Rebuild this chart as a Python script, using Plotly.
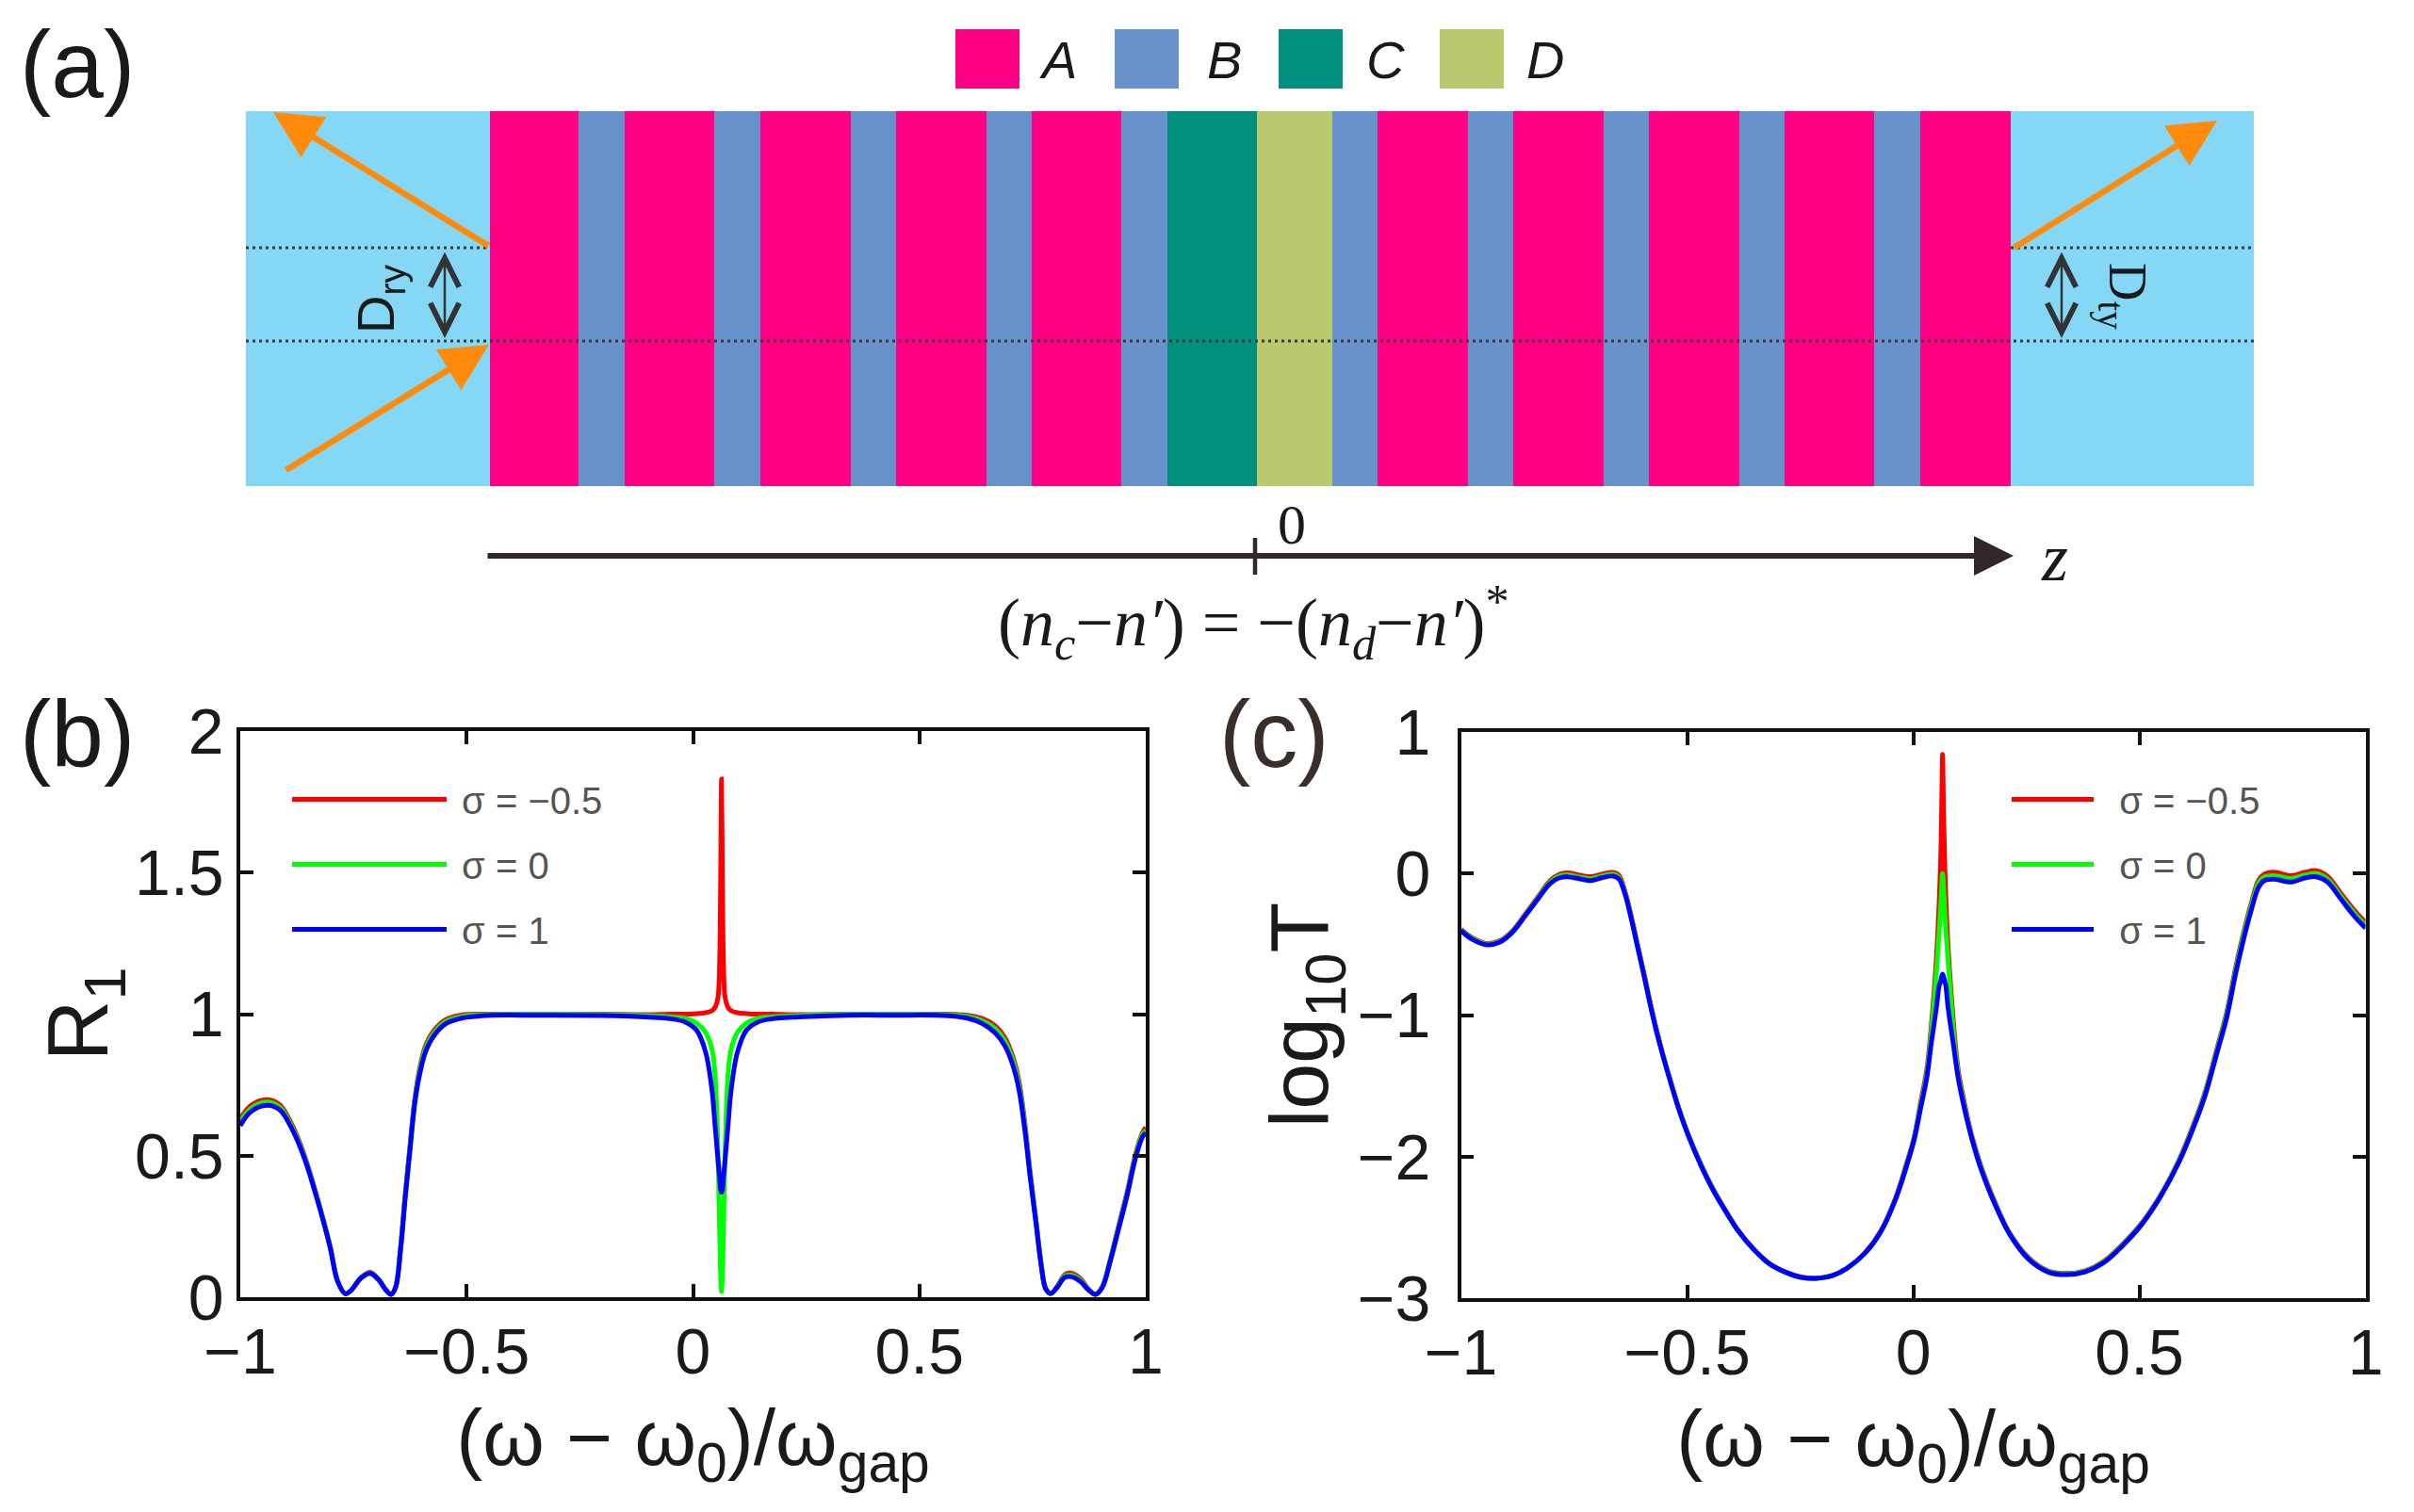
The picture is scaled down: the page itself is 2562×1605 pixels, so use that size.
import numpy as np
import plotly.graph_objects as go

W = 2562
H = 1605
PAGE_MARGIN = 8  # the page keeps its default body margin

# layer stack of panel (a), thickness in picture pixels
layer_names = ['clad', 'A', 'B', 'A', 'B', 'A', 'B', 'A', 'B', 'A', 'B', 'C', 'D',
               'B', 'A', 'B', 'A', 'B', 'A', 'B', 'A', 'B', 'A', 'clad']
layer_thickness = [258.6, 94.8, 48.2, 95.6, 49, 95.6, 48.2, 95.6, 48.2, 95.6, 48.2, 95.4, 80,
                   48.4, 95.6, 48, 96, 48, 95.5, 48.5, 95, 49, 96, 258]
layer_colors = {'clad': '#84D8F6', 'A': '#FF0084', 'B': '#6892CB', 'C': '#00907D', 'D': '#BAC86E'}
legend_names = ['A', 'B', 'C', 'D']

sigma_names = ['σ = −0.5', 'σ = 0', 'σ = 1']
sigma_colors = ['#FF0000', '#00FF00', '#0000FF']

# panel (b)
b_x = [-1, -.976, -.941, -.913, -.886, -.858, -.83, -.802, -.785, -.768, -.756, -.733, -.713, -.695, -.677,
       -.667, -.657, -.646, -.636, -.625, -.615, -.605, -.591, -.573, -.546, -.511, -.455, -.344, -.2,
       -.107, -.047, -.017, .008, .028, .042, .048, .0525, .056, .059, .061, .063,
       .065, .067, .07, .0735, .078, .084, .098, .118, .143, .173, .233,
       .342, .446, .55, .606, .64, .668, .689, .706, .72, .733, .744, .758, .769, .779, .79, .804, .821, .836,
       .856, .873, .889, .904, .921, .939, .96, .977, .993, 1]
b_red = [.63, .678, .698, .68, .61, .5, .352, .183, .058, .012, .023, .07, .088, .064, .023,
         .01, .036, .175, .357, .537, .695, .798, .887, .94, .98, .997, 1, 1, 1,
         .998, 1, 1, 1.002, 1.005, 1.012, 1.022, 1.04, 1.07, 1.2, 1.47, 1.83,
         1.47, 1.2, 1.07, 1.04, 1.022, 1.012, 1.005, 1.002, 1, 1, .998,
         1, 1, 1, .996, .984, .958, .917, .852, .763, .614, .452, .266, .118, .03, .013, .037, .08, .085,
         .065, .03, .01, .037, .13, .245, .38, .503, .582, .6]
b_green = [.62, .668, .69, .672, .603, .495, .349, .181, .057, .012, .023, .07, .086, .063, .023,
           .01, .035, .172, .352, .53, .688, .79, .878, .932, .974, .992, .998, .999, .998,
           .995, .99, .985, .968, .935, .875, .80, .66, .45, .22, .08, .02,
           .08, .22, .45, .66, .80, .875, .935, .968, .985, .99, .995,
           .999, .999, .998, .992, .976, .948, .905, .84, .75, .603, .444, .262, .116, .03, .013, .036, .075, .078,
           .06, .028, .01, .036, .127, .24, .374, .497, .575, .59]
b_blue = [.606, .656, .678, .662, .595, .489, .345, .179, .056, .012, .023, .068, .084, .062, .023,
          .01, .034, .167, .345, .522, .678, .778, .866, .922, .966, .986, .995, .996, .995,
          .99, .983, .972, .943, .865, .73, .62, .534, .47, .42, .38, .37,
          .38, .42, .47, .534, .62, .73, .865, .943, .972, .983, .99,
          .996, .996, .995, .986, .966, .933, .888, .822, .733, .589, .434, .256, .113, .03, .013, .034, .07, .072,
          .055, .026, .01, .034, .123, .234, .367, .489, .567, .58]

# panel (c)
c_x = [-1, -.977, -.943, -.914, -.887, -.859, -.831, -.803, -.782, -.765, -.737, -.713, -.689, -.664, -.651,
       -.637, -.623, -.609, -.595, -.581, -.567, -.553, -.539, -.519, -.498, -.47, -.443, -.414, -.387, -.352,
       -.318, -.282, -.248, -.216, -.178,
       -.147, -.106, -.071, -.039, -.016, .002, .016, .03, .04, .051, .057, .0605, .0625, .0648,
       .067, .0695, .072, .077, .088, .099, .113, .13, .151, .179, .213,
       .255, .297, .338, .38, .422, .464, .505, .547, .588, .617, .645, .672, .693, .713, .734, .749, .763,
       .776, .797, .836, .867, .891, .916, .943, .971, .995, 1]
c_red = [-.393, -.45, -.495, -.475, -.408, -.292, -.17, -.05, -.005, .005, -.012, -.022, -.005, .008, -.012,
         -.13, -.31, -.51, -.71, -.92, -1.11, -1.285, -1.44, -1.65, -1.84, -2.05, -2.225, -2.385, -2.52, -2.655,
         -2.755, -2.815, -2.85, -2.86, -2.84,
         -2.79, -2.675, -2.52, -2.29, -2.06, -1.86, -1.62, -1.38, -1.07, -.60, -.22, .1, .42, .842,
         .42, .08, -.17, -.52, -1.02, -1.38, -1.62, -1.86, -2.08, -2.31, -2.54,
         -2.715, -2.806, -2.826, -2.806, -2.737, -2.615, -2.47, -2.27, -2.02, -1.795, -1.545, -1.23, -.98,
         -.66, -.37, -.19, -.05, -.005, .01, -.015, .01, .02, -.02, -.13, -.245, -.33, -.345]
c_green = [-.398, -.456, -.5, -.48, -.413, -.298, -.178, -.06, -.018, -.01, -.026, -.036, -.018, -.005, -.026,
           -.14, -.32, -.52, -.72, -.93, -1.12, -1.29, -1.445, -1.655, -1.845, -2.055, -2.23, -2.39, -2.525, -2.658,
           -2.757, -2.817, -2.853, -2.86, -2.84,
           -2.79, -2.68, -2.525, -2.295, -2.07, -1.87, -1.64, -1.41, -1.12, -.70, -.42, -.24, -.11, 0,
           -.11, -.26, -.40, -.62, -1.08, -1.41, -1.64, -1.87, -2.09, -2.32, -2.545,
           -2.72, -2.81, -2.83, -2.81, -2.742, -2.62, -2.475, -2.275, -2.025, -1.805, -1.555, -1.245, -.995,
           -.68, -.39, -.21, -.07, -.025, -.015, -.035, -.01, 0, -.04, -.15, -.265, -.35, -.365]
c_blue = [-.404, -.462, -.504, -.484, -.417, -.303, -.185, -.07, -.03, -.023, -.038, -.05, -.03, -.018, -.038,
          -.15, -.329, -.529, -.729, -.937, -1.128, -1.294, -1.45, -1.66, -1.848, -2.06, -2.235, -2.392, -2.526, -2.659,
          -2.758, -2.818, -2.854, -2.86, -2.84,
          -2.79, -2.68, -2.526, -2.30, -2.08, -1.88, -1.66, -1.44, -1.194, -.95, -.795, -.76, -.73, -.71,
          -.73, -.76, -.795, -.95, -1.194, -1.44, -1.66, -1.88, -2.10, -2.326, -2.548,
          -2.725, -2.814, -2.834, -2.814, -2.747, -2.625, -2.48, -2.281, -2.035, -1.815, -1.57, -1.261, -1.017,
          -.704, -.417, -.238, -.1, -.05, -.04, -.06, -.03, -.023, -.06, -.17, -.285, -.37, -.385]

x_ticks = [-1, -0.5, 0, 0.5, 1]
x_tick_text = ['−1', '−0.5', '0', '0.5', '1']
b_y_ticks = [0, 0.5, 1, 1.5, 2]
b_y_tick_text = ['0', '0.5', '1', '1.5', '2']
c_y_ticks = [-3, -2, -1, 0, 1]
c_y_tick_text = ['−3', '−2', '−1', '0', '1']

SANS = 'Liberation Sans'
SERIF = 'Liberation Serif'
INK = '#1a1a1a'
FIG_W = W - 2 * PAGE_MARGIN
FIG_H = H - 2 * PAGE_MARGIN

fig = go.Figure()


def dom_x(left, right):
    return [(left - PAGE_MARGIN) / FIG_W, (right - PAGE_MARGIN) / FIG_W]


def dom_y(top, bottom):
    return [1 - (bottom - PAGE_MARGIN) / FIG_H, 1 - (top - PAGE_MARGIN) / FIG_H]


def add_text(text, x, y, size, font=SANS, angle=0, color=INK):
    fig.add_annotation(text=text, x=x, y=y, xref='x3', yref='y3', showarrow=False, textangle=angle,
                       font=dict(family=font, size=size, color=color))


def add_arrow(x0, y0, x1, y1, color, width, size, head=2, side='end'):
    fig.add_annotation(x=x1, y=y1, ax=x0, ay=y0, xref='x3', yref='y3', axref='x3', ayref='y3', text='',
                       showarrow=True, arrowcolor=color, arrowwidth=width, arrowsize=size,
                       arrowhead=head, startarrowhead=head, startarrowsize=size, arrowside=side,
                       standoff=0, startstandoff=0)


# Panel (a): one axis pair spanning the page, in picture pixels
edges = np.cumsum([261] + layer_thickness)
fig.add_trace(go.Bar(
    x=(edges[:-1] + edges[1:]) / 2,
    y=[398] * len(layer_names),
    base=118,
    width=layer_thickness,
    marker=dict(color=[layer_colors[n] for n in layer_names], line=dict(width=0)),
    showlegend=False, hoverinfo='skip', xaxis='x3', yaxis='y3'))

for x0, x1, y in [(261, 520, 263), (2134, 2392, 263), (261, 2392, 362)]:
    fig.add_trace(go.Scatter(x=[x0, x1], y=[y, y], mode='lines', showlegend=False, hoverinfo='skip',
                             line=dict(color='#3a3a3a', width=3, dash='3px,4px'), xaxis='x3', yaxis='y3'))

swatch_left = [1014, 1183, 1357, 1528]
label_x = [1123, 1299, 1470, 1640]
for name, left, lx in zip(legend_names, swatch_left, label_x):
    fig.add_shape(type='rect', x0=left, x1=left + 68, y0=31, y1=94, xref='x3', yref='y3',
                  fillcolor=layer_colors[name], line_width=0)
    add_text('<i>%s</i>' % name, lx, 63, 56)

orange = '#FF8A0C'
add_arrow(520, 262, 290, 119, orange, 6.5, 1.55)
add_arrow(302, 500, 519, 366, orange, 6.5, 1.55)
add_arrow(2136, 264, 2353, 128, orange, 6.5, 1.55)
add_arrow(472, 266, 472, 359, '#333333', 2.5, 2.4, head=5, side='end+start')
add_arrow(2188, 266, 2188, 359, '#333333', 2.5, 2.4, head=5, side='end+start')
add_arrow(516, 590, 2137, 590, '#32282a', 6, 1.4)
fig.add_shape(type='line', x0=1332, x1=1332, y0=571, y1=610, xref='x3', yref='y3',
              line=dict(color='#32282a', width=4.5))

add_text('D<sub>ry</sub>', 402, 317, 56, angle=-90)
add_text('D<sub>ty</sub>', 2254, 314, 56, font=SERIF, angle=90)
add_text('0', 1371, 557, 60, font=SERIF)
add_text('<i>z</i>', 2180, 592, 72, font=SERIF)
add_text('(<i>n<sub>c</sub></i>−<i>n′</i>) = −(<i>n<sub>d</sub></i>−<i>n′</i>)<sup>*</sup>', 1330, 660, 72, font=SERIF)
add_text('(a)', 82, 68, 100)
add_text('(b)', 82, 779, 100)
add_text('(c)', 1352, 779, 100, color='#3a2e2a')

# Panels (b) and (c)
for y_vals, xa, ya, leg, pad in [([b_red, b_green, b_blue], 'x', 'y', 'legend', '\u00a0'),
                                 ([c_red, c_green, c_blue], 'x2', 'y2', 'legend2', '\u00a0\u00a0')]:
    xs = b_x if xa == 'x' else c_x
    for j, vals in enumerate(y_vals):
        fig.add_trace(go.Scatter(x=xs, y=vals, mode='lines', name=pad + sigma_names[j], xaxis=xa, yaxis=ya,
                                 legend=leg, legendgroup='%s%d' % (leg, j),
                                 line=dict(color=sigma_colors[j], width=5, shape='spline', smoothing=1.0)))

frame = dict(showgrid=False, zeroline=False, showline=True, linecolor='#111111', linewidth=3.5, mirror='ticks',
             ticks='inside', ticklen=14, tickwidth=3.5, tickcolor='#111111', tickmode='array',
             tickfont=dict(family=SANS, size=68, color=INK), automargin=False)
x_title = dict(text='(ω − ω<sub>0</sub>)/ω<sub>gap</sub>', font=dict(family=SANS, size=84, color=INK), standoff=26)


def legend_style(left, top, width):
    return dict(x=(left - PAGE_MARGIN) / FIG_W, y=1 - (top - PAGE_MARGIN) / FIG_H, xanchor='left', yanchor='top',
                itemwidth=width, tracegroupgap=14, bgcolor='rgba(0,0,0,0)',
                font=dict(family=SANS, size=40, color='#555555'),
                traceorder='grouped', itemclick=False, itemdoubleclick=False)


fig.update_layout(
    width=FIG_W, height=FIG_H, margin=dict(l=0, r=0, t=0, b=0), paper_bgcolor='white', plot_bgcolor='rgba(0,0,0,0)',
    barmode='overlay', bargap=0, showlegend=True,
    xaxis3=dict(domain=[0, 1], range=[PAGE_MARGIN, W - PAGE_MARGIN], visible=False, anchor='y3'),
    yaxis3=dict(domain=[0, 1], range=[H - PAGE_MARGIN, PAGE_MARGIN], visible=False, anchor='x3'),
    xaxis=dict(frame, domain=dom_x(255, 1216), range=[-1, 1], tickvals=x_ticks, ticktext=x_tick_text,
               title=x_title, ticklabelstandoff=-4, anchor='y'),
    yaxis=dict(frame, domain=dom_y(776, 1377), range=[0, 2], tickvals=b_y_ticks, ticktext=b_y_tick_text,
               title=dict(text='R<sub>1</sub>', font=dict(family=SANS, size=90, color=INK), standoff=0),
               ticklabelstandoff=0, anchor='x'),
    xaxis2=dict(frame, domain=dom_x(1550.6, 2510.6), range=[-1, 1], tickvals=x_ticks, ticktext=x_tick_text,
                title=x_title, ticklabelstandoff=-4, anchor='y2'),
    yaxis2=dict(frame, domain=dom_y(777, 1378), range=[-3, 1], tickvals=c_y_ticks, ticktext=c_y_tick_text,
                title=dict(text='log<sub>10</sub>T', font=dict(family=SANS, size=88, color=INK), standoff=0),
                ticklabelstandoff=15, anchor='x2'),
    legend=legend_style(305, 816, 164),
    legend2=legend_style(2130, 816, 87),
)

fig.write_html("out.html")
